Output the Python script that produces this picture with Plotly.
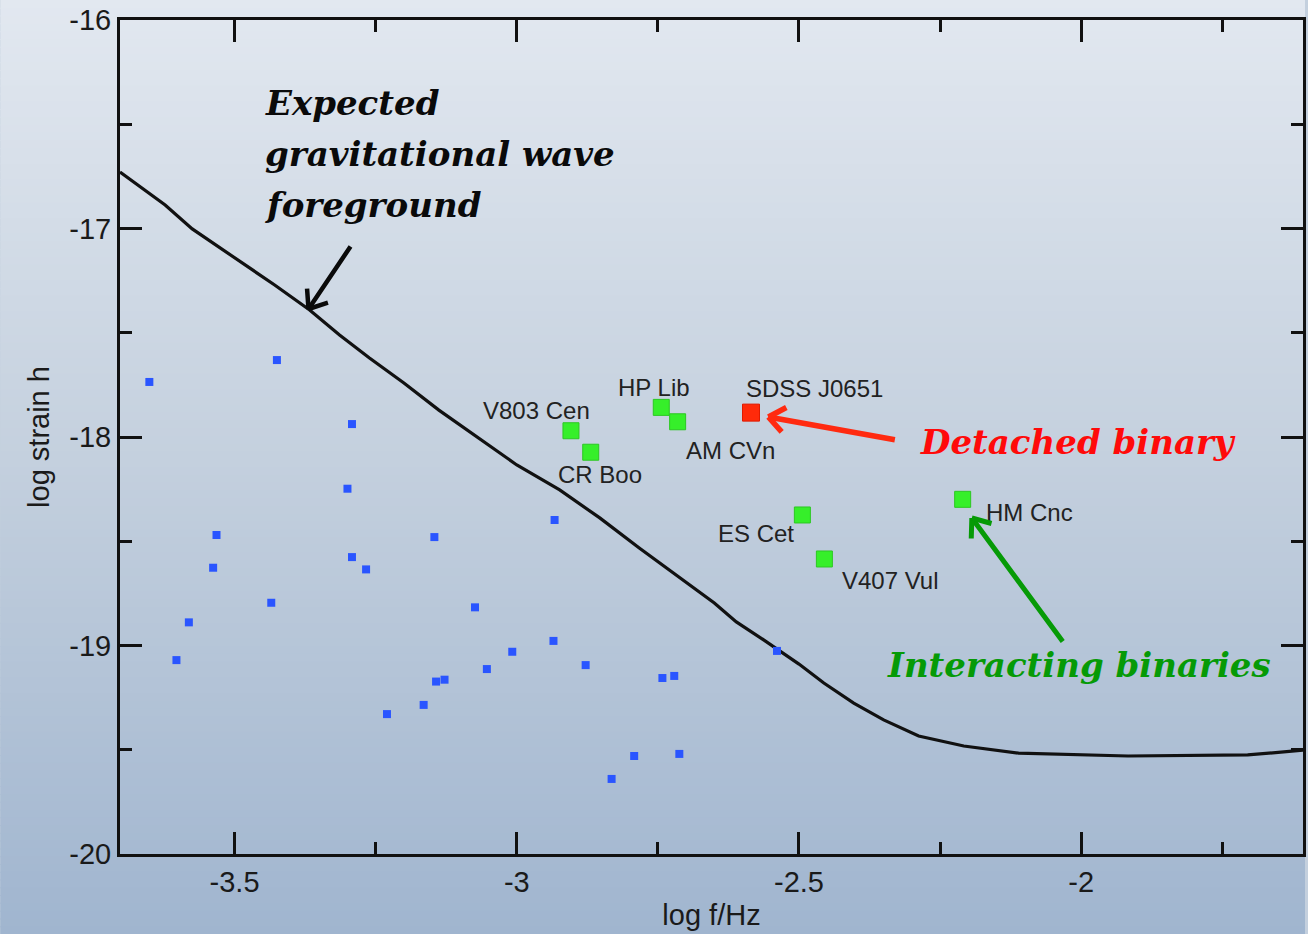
import math
import plotly.graph_objects as go

# ---------------- data ----------------
curve_x = [-3.703, -3.676, -3.623, -3.575, -3.500, -3.429, -3.367, -3.314, -3.261, -3.200,
           -3.138, -3.067, -3.000, -2.924, -2.853, -2.783, -2.712, -2.650, -2.611, -2.562,
           -2.500, -2.456, -2.403, -2.350, -2.288, -2.208, -2.111, -2.000, -1.917, -1.705, -1.603]
curve_y = [-16.729, -16.782, -16.887, -17.002, -17.141, -17.271, -17.391, -17.511, -17.621, -17.741,
           -17.871, -18.005, -18.134, -18.254, -18.388, -18.532, -18.671, -18.796, -18.887, -18.974,
           -19.089, -19.180, -19.276, -19.357, -19.434, -19.482, -19.516, -19.525, -19.530, -19.525, -19.501]

blue_x = [-3.651, -3.425, -3.292, -3.300, -3.532, -3.538, -3.292, -3.267, -3.146, -3.435,
          -3.581, -3.603, -3.074, -3.230, -3.165, -3.143, -3.128, -3.053, -3.008, -2.933,
          -2.935, -2.878, -2.742, -2.721, -2.792, -2.832, -2.712, -2.539]
blue_y = [-17.736, -17.631, -17.938, -18.248, -18.470, -18.627, -18.576, -18.635, -18.480, -18.795,
          -18.889, -19.070, -18.817, -19.329, -19.285, -19.173, -19.164, -19.113, -19.030, -18.398,
          -18.978, -19.094, -19.156, -19.146, -19.530, -19.640, -19.520, -19.026]

inter_names = ["V803 Cen", "CR Boo", "HP Lib", "AM CVn", "ES Cet", "V407 Vul", "HM Cnc"]
inter_x = [-2.904, -2.869, -2.744, -2.715, -2.494, -2.455, -2.210]
inter_y = [-17.970, -18.073, -17.858, -17.927, -18.374, -18.585, -18.299]

det_names = ["SDSS J0651"]
det_x = [-2.585]
det_y = [-17.883]

x_ticks = [-3.5, -3, -2.5, -2]
y_ticks = [-16, -17, -18, -19, -20]

# ---------------- layout geometry ----------------
W, H = 1308, 934
ML, MR, MT, MB = 120, 2, 20, 80
XR = [-3.703, -1.607]
YR = [-20, -16]
PW, PH = W - ML - MR, H - MT - MB
SX = PW / (XR[1] - XR[0])
SY = PH / (YR[1] - YR[0])

fig = go.Figure()

fig.add_trace(go.Scatter(x=curve_x, y=curve_y, mode="lines",
                         line=dict(color="#111111", width=3.2), hoverinfo="skip"))
fig.add_trace(go.Scatter(x=blue_x, y=blue_y, mode="markers",
                         marker=dict(symbol="square", size=8, color="#2a55ff", line=dict(width=0))))
fig.add_trace(go.Scatter(x=inter_x, y=inter_y, mode="markers",
                         marker=dict(symbol="square", size=16, color="#36ef2a",
                                     line=dict(width=1, color="#2cc822"))))
fig.add_trace(go.Scatter(x=det_x, y=det_y, mode="markers",
                         marker=dict(symbol="square", size=17, color="#ff2a0a",
                                     line=dict(width=1, color="#e01a00"))))

# background gradient (paper-wide bands)
stops = [(0.0, (226, 232, 240)), (0.49, (196, 208, 222)), (1.0, (160, 181, 207))]


def grad(t):
    for (t0, c0), (t1, c1) in zip(stops[:-1], stops[1:]):
        if t <= t1:
            f = (t - t0) / (t1 - t0)
            return tuple(round(a + (b - a) * f) for a, b in zip(c0, c1))
    return stops[-1][1]


shapes = []
N = 120
for i in range(N):
    top_px = H * i / N
    bot_px = H * (i + 1) / N + 1
    c = grad((i + 0.5) / N)
    shapes.append(dict(type="rect", xref="paper", yref="paper", layer="below",
                       x0=-ML / PW, x1=(W - ML) / PW,
                       y0=1 - (bot_px - MT) / PH, y1=1 - (top_px - MT) / PH,
                       line=dict(width=0), fillcolor="rgb(%d,%d,%d)" % c))

annotations = []

# point labels (pixel offsets from marker)
label_font = dict(family="Liberation Sans, Arial, sans-serif", size=24, color="#222222")
inter_shift = [(-34, 20), (9, -22), (-7, 20), (53, -29), (-46, -19), (66, -22), (67, -13)]
for name, x, y, (dx, dy) in zip(inter_names, inter_x, inter_y, inter_shift):
    annotations.append(dict(x=x, y=y, text=name, showarrow=False, xshift=dx, yshift=dy,
                            font=label_font))
for name, x, y in zip(det_names, det_x, det_y):
    annotations.append(dict(x=x, y=y, text=name, showarrow=False, xshift=63, yshift=24,
                            font=label_font))

# big italic captions
cap_family = "DejaVu Serif, Liberation Serif, serif"
cap_size = 34
annotations.append(dict(x=-3.450, y=-16.40, xanchor="left", yanchor="middle", showarrow=False,
                        text="<b><i>Expected</i></b>", font=dict(family=cap_family, size=cap_size, color="#0a0a0a")))
annotations.append(dict(x=-3.450, y=-16.645, xanchor="left", yanchor="middle", showarrow=False,
                        text="<b><i>gravitational wave</i></b>", font=dict(family=cap_family, size=cap_size, color="#0a0a0a")))
annotations.append(dict(x=-3.450, y=-16.885, xanchor="left", yanchor="middle", showarrow=False,
                        text="<b><i>foreground</i></b>", font=dict(family=cap_family, size=cap_size, color="#0a0a0a")))
annotations.append(dict(x=-2.290, y=-18.025, xanchor="left", yanchor="middle", showarrow=False,
                        text="<b><i>Detached binary</i></b>", font=dict(family=cap_family, size=cap_size, color="#ff0a0a")))
annotations.append(dict(x=-2.348, y=-19.095, xanchor="left", yanchor="middle", showarrow=False,
                        text="<b><i>Interacting binaries</i></b>", font=dict(family=cap_family, size=cap_size, color="#069a06")))


def px_to_data(px, py):
    return XR[0] + (px - ML) / SX, YR[1] - (py - MT) / SY


def add_arrow(tail_px, tip_px, color, width, arm=22, ang=38):
    tx, ty = px_to_data(*tip_px)
    dx = tail_px[0] - tip_px[0]
    dy = tail_px[1] - tip_px[1]
    annotations.append(dict(x=tx, y=ty, ax=dx, ay=dy, text="", showarrow=True, arrowhead=0,
                            arrowwidth=width, arrowcolor=color, standoff=0, startstandoff=0))
    L = math.hypot(dx, dy)
    ux, uy = dx / L, dy / L
    for s in (1, -1):
        a = math.radians(ang * s)
        bx = ux * math.cos(a) - uy * math.sin(a)
        by = ux * math.sin(a) + uy * math.cos(a)
        annotations.append(dict(x=tx, y=ty, ax=bx * arm, ay=by * arm, text="", showarrow=True,
                                arrowhead=0, arrowwidth=width, arrowcolor=color,
                                standoff=0, startstandoff=0))


add_arrow((352, 245), (309, 309), "#0a0a0a", 4.5)
add_arrow((898, 440), (770, 417), "#ff2a10", 5.5)
add_arrow((1066, 643), (974, 518), "#069a06", 5)

tick_font = dict(family="Liberation Sans, Arial, sans-serif", size=29, color="#1a1a1a")
title_font = dict(family="Liberation Sans, Arial, sans-serif", size=29, color="#1a1a1a")
axis_common = dict(showline=True, linecolor="#111111", linewidth=3, mirror="ticks",
                   ticks="inside", ticklen=22, tickwidth=3, tickcolor="#111111",
                   showgrid=False, zeroline=False, tickfont=tick_font)
minor_common = dict(ticks="inside", ticklen=12, tickwidth=3, tickcolor="#111111", showgrid=False)

fig.update_layout(
    width=W, height=H, margin=dict(l=ML, r=MR, t=MT, b=MB),
    paper_bgcolor="rgb(196,208,222)", plot_bgcolor="rgba(0,0,0,0)",
    showlegend=False, shapes=shapes, annotations=annotations,
    xaxis=dict(range=XR, tickvals=x_ticks, ticktext=[("%g" % v) for v in x_ticks],
               title=dict(text="log f/Hz", standoff=8, font=title_font),
               minor=dict(minor_common, tickvals=[-3.25, -2.75, -2.25, -1.75]),
               **axis_common),
    yaxis=dict(range=YR, tickvals=y_ticks, ticktext=[("%g" % v) for v in y_ticks],
               title=dict(text="log strain h", standoff=12, font=title_font),
               minor=dict(minor_common, tickvals=[-16.5, -17.5, -18.5, -19.5]),
               **axis_common),
)

fig.write_html("out.html")
